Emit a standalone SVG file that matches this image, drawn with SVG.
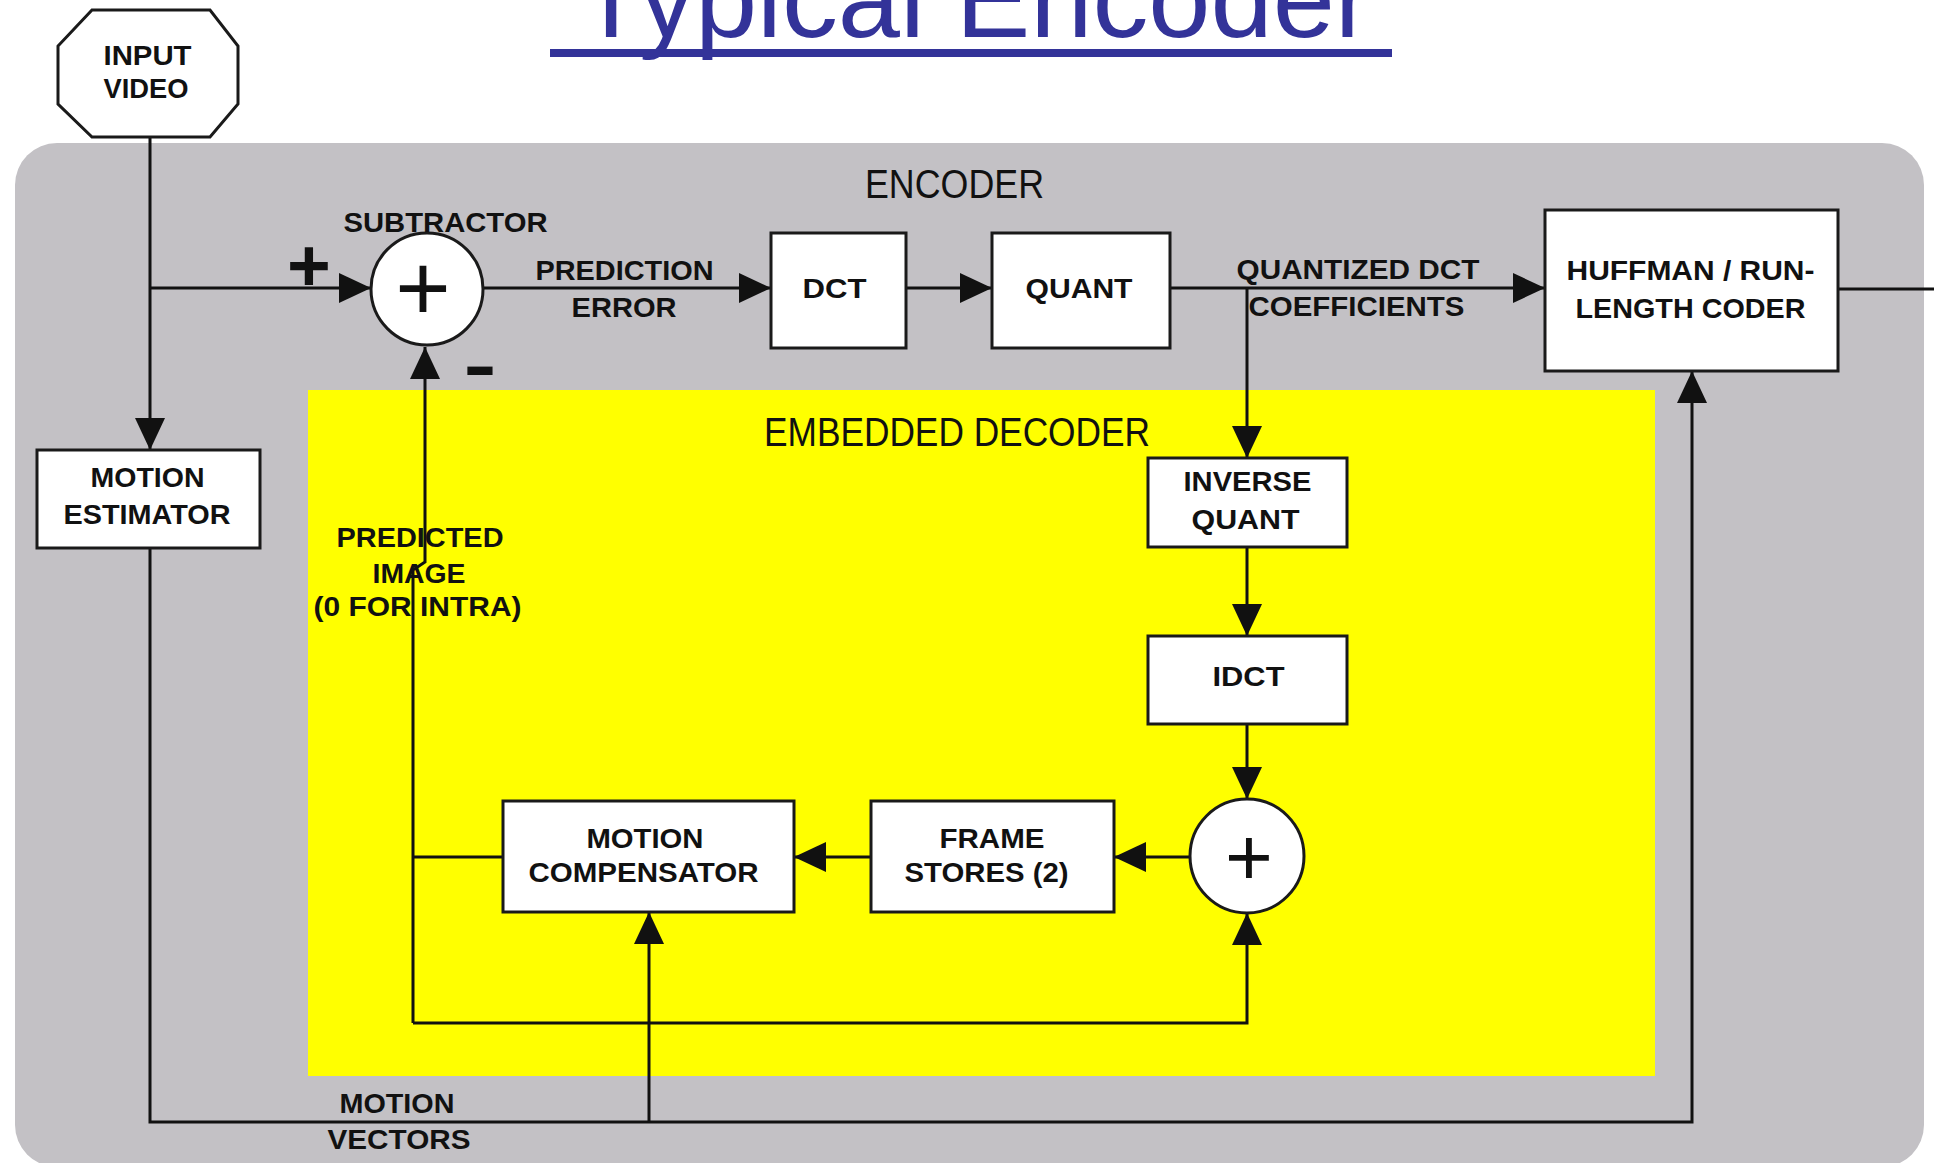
<svg xmlns="http://www.w3.org/2000/svg" width="1934" height="1163" viewBox="0 0 1934 1163">
<style>
.box{fill:#fff;stroke:#1a1a1a;stroke-width:3}
.ln{fill:none;stroke:#111;stroke-width:3}
.lbl{font-family:"Liberation Sans",Arial,sans-serif;font-weight:bold;font-size:28px;fill:#111;text-anchor:middle}
.big{font-family:"Liberation Sans",Arial,sans-serif;font-size:40px;fill:#111;text-anchor:middle}
.sym{font-family:"Liberation Sans",Arial,sans-serif;fill:#111;text-anchor:middle}
</style>
<defs>
<marker id="ah" markerUnits="userSpaceOnUse" markerWidth="34" markerHeight="32" refX="32" refY="15" orient="auto">
<path d="M0,0 L32,15 L0,30 z" fill="#111"/>
</marker>
</defs>
<rect width="1934" height="1163" fill="#fff"/>
<g id="title">
<text x="577" y="37" font-family="Liberation Sans,Arial,sans-serif" font-size="112" fill="#333399" textLength="795" lengthAdjust="spacingAndGlyphs">Typical Encoder</text>
<rect x="550" y="49" width="842" height="8" fill="#333399"/>
</g>
<g id="encoder-panel">
<rect x="15" y="143" width="1909" height="1024" rx="42" ry="42" fill="#c3c1c5"/>
<text class="big" x="954.5" y="198" textLength="179" lengthAdjust="spacingAndGlyphs">ENCODER</text>
</g>
<g id="embedded-decoder">
<rect x="308" y="390" width="1347" height="686" fill="#ffff00"/>
<text class="big" x="957" y="446" textLength="386" lengthAdjust="spacingAndGlyphs">EMBEDDED DECODER</text>
</g>
<g id="connectors">
<path class="ln" d="M150,137 V450" marker-end="url(#ah)"/>
<path class="ln" d="M150,288 H371" marker-end="url(#ah)"/>
<path class="ln" d="M484,288 H771" marker-end="url(#ah)"/>
<path class="ln" d="M906,288 H992" marker-end="url(#ah)"/>
<path class="ln" d="M1170,288 H1545" marker-end="url(#ah)"/>
<path class="ln" d="M1838,289 H1934"/>
<path class="ln" d="M1247,288 V458" marker-end="url(#ah)"/>
<path class="ln" d="M1247,547 V636" marker-end="url(#ah)"/>
<path class="ln" d="M1247,724 V799" marker-end="url(#ah)"/>
<path class="ln" d="M1190,857 H1114" marker-end="url(#ah)"/>
<path class="ln" d="M871,857 H794" marker-end="url(#ah)"/>
<path class="ln" d="M503,857 H413"/>
<path class="ln" d="M413,1023 V570 L425,562 V347" marker-end="url(#ah)"/>
<path class="ln" d="M413,1023 H1247 V913" marker-end="url(#ah)"/>
<path class="ln" d="M150,548 V1122 H1692 V371" marker-end="url(#ah)"/>
<path class="ln" d="M649,1122 V912" marker-end="url(#ah)"/>
</g>
<g id="input-video">
<polygon class="box" points="92,10 210,10 238,46 238,104 210,137 92,137 58,104 58,46"/>
<text class="lbl" x="147.5" y="65" textLength="88" lengthAdjust="spacingAndGlyphs">INPUT</text>
<text class="lbl" x="146" y="98" textLength="85" lengthAdjust="spacingAndGlyphs">VIDEO</text>
</g>
<g id="subtractor">
<circle class="box" cx="427" cy="289" r="56"/>
<text class="sym" x="423" y="320" font-size="95">+</text>
<text class="lbl" x="445.5" y="232" textLength="204" lengthAdjust="spacingAndGlyphs">SUBTRACTOR</text>
<text class="sym" x="309" y="291" font-size="75" font-weight="bold">+</text>
<text class="sym" x="480" y="389" font-size="70" font-weight="bold" textLength="33" lengthAdjust="spacingAndGlyphs">-</text>
</g>
<g id="prediction-error-label">
<text class="lbl" x="624.5" y="280" textLength="178" lengthAdjust="spacingAndGlyphs">PREDICTION</text>
<text class="lbl" x="624" y="317" textLength="105" lengthAdjust="spacingAndGlyphs">ERROR</text>
</g>
<g id="dct">
<rect class="box" x="771" y="233" width="135" height="115"/>
<text class="lbl" x="834.5" y="298" textLength="64" lengthAdjust="spacingAndGlyphs">DCT</text>
</g>
<g id="quant">
<rect class="box" x="992" y="233" width="178" height="115"/>
<text class="lbl" x="1079" y="298" textLength="107" lengthAdjust="spacingAndGlyphs">QUANT</text>
</g>
<g id="quantized-label">
<text class="lbl" x="1358" y="279" textLength="243" lengthAdjust="spacingAndGlyphs">QUANTIZED DCT</text>
<text class="lbl" x="1356.5" y="316" textLength="216" lengthAdjust="spacingAndGlyphs">COEFFICIENTS</text>
</g>
<g id="huffman">
<rect class="box" x="1545" y="210" width="293" height="161"/>
<text class="lbl" x="1690.5" y="280" textLength="248" lengthAdjust="spacingAndGlyphs">HUFFMAN / RUN-</text>
<text class="lbl" x="1690.5" y="318" textLength="230" lengthAdjust="spacingAndGlyphs">LENGTH CODER</text>
</g>
<g id="motion-estimator">
<rect class="box" x="37" y="450" width="223" height="98"/>
<text class="lbl" x="147.5" y="487" textLength="114" lengthAdjust="spacingAndGlyphs">MOTION</text>
<text class="lbl" x="147" y="524" textLength="167" lengthAdjust="spacingAndGlyphs">ESTIMATOR</text>
</g>
<g id="inverse-quant">
<rect class="box" x="1148" y="458" width="199" height="89"/>
<text class="lbl" x="1247.5" y="491" textLength="128" lengthAdjust="spacingAndGlyphs">INVERSE</text>
<text class="lbl" x="1245.5" y="529" textLength="108" lengthAdjust="spacingAndGlyphs">QUANT</text>
</g>
<g id="idct">
<rect class="box" x="1148" y="636" width="199" height="88"/>
<text class="lbl" x="1248.5" y="686" textLength="72" lengthAdjust="spacingAndGlyphs">IDCT</text>
</g>
<g id="adder">
<circle class="box" cx="1247" cy="856" r="57"/>
<text class="sym" x="1249" y="885" font-size="82">+</text>
</g>
<g id="frame-stores">
<rect class="box" x="871" y="801" width="243" height="111"/>
<text class="lbl" x="992" y="848" textLength="105" lengthAdjust="spacingAndGlyphs">FRAME</text>
<text class="lbl" x="986.5" y="882" textLength="164" lengthAdjust="spacingAndGlyphs">STORES (2)</text>
</g>
<g id="motion-compensator">
<rect class="box" x="503" y="801" width="291" height="111"/>
<text class="lbl" x="645" y="848" textLength="117" lengthAdjust="spacingAndGlyphs">MOTION</text>
<text class="lbl" x="643.5" y="882" textLength="230" lengthAdjust="spacingAndGlyphs">COMPENSATOR</text>
</g>
<g id="predicted-image-label">
<text class="lbl" x="420" y="547" textLength="167" lengthAdjust="spacingAndGlyphs">PREDICTED</text>
<text class="lbl" x="419" y="583" textLength="93" lengthAdjust="spacingAndGlyphs">IMAGE</text>
<text class="lbl" x="417.5" y="616" textLength="208" lengthAdjust="spacingAndGlyphs">(0 FOR INTRA)</text>
</g>
<g id="motion-vectors-label">
<text class="lbl" x="397" y="1113" textLength="115" lengthAdjust="spacingAndGlyphs">MOTION</text>
<text class="lbl" x="399" y="1149" textLength="143" lengthAdjust="spacingAndGlyphs">VECTORS</text>
</g>
</svg>
